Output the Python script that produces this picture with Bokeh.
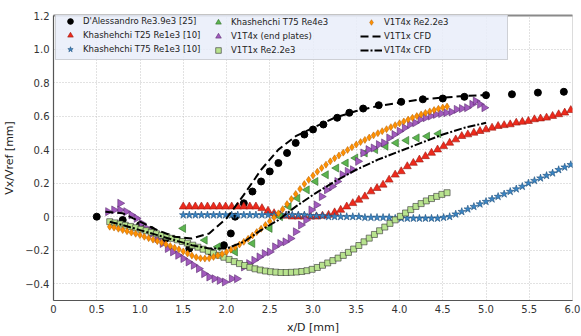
import math
from bokeh.plotting import figure
from bokeh.models import (LinearAxis, FixedTicker, CustomJSTickFormatter, Range1d,
                          Legend, LegendItem)
from bokeh.embed import file_html
from bokeh.resources import INLINE

# ---------------- data ----------------
x_ticks = [0, 0.5, 1.0, 1.5, 2.0, 2.5, 3.0, 3.5, 4.0, 4.5, 5.0, 5.5, 6.0]
y_ticks = [-0.4, -0.2, 0, 0.2, 0.4, 0.6, 0.8, 1.0, 1.2]

dal_x = [0.5, 0.8, 1.0, 1.13, 1.3, 1.57, 1.82, 1.97, 2.05, 2.1, 2.2, 2.3, 2.4, 2.5,
         2.6, 2.7, 2.8, 2.9, 3.0, 3.12, 3.28, 3.42, 3.58, 3.76, 4.02, 4.27, 4.5,
         4.75, 5.0, 5.3, 5.6, 5.9]
dal_y = [0.0, -0.02, -0.05, -0.08, -0.13, -0.19, -0.21, -0.17, -0.10, 0.0, 0.08,
         0.15, 0.21, 0.27, 0.32, 0.38, 0.44, 0.49, 0.52, 0.55, 0.59, 0.62, 0.645,
         0.665, 0.685, 0.70, 0.705, 0.715, 0.725, 0.73, 0.74, 0.745]

t25_x = [1.5, 1.57, 1.64, 1.71, 1.78, 1.85, 1.92, 1.99, 2.06, 2.13, 2.2, 2.27, 2.34,
         2.41, 2.48, 2.55, 2.62, 2.69, 2.76, 2.83, 2.9, 2.97, 3.04, 3.11, 3.18, 3.25,
         3.32, 3.39, 3.46, 3.53, 3.6, 3.67, 3.74, 3.81, 3.88, 3.95, 4.02, 4.09, 4.16,
         4.23, 4.3, 4.37, 4.44, 4.51, 4.58, 4.65, 4.72, 4.79, 4.86, 4.93, 5.0, 5.07,
         5.14, 5.21, 5.28, 5.35, 5.42, 5.49, 5.56, 5.63, 5.7, 5.77, 5.84, 5.91, 5.98]
t25_y = [0.06, 0.06, 0.06, 0.06, 0.06, 0.06, 0.06, 0.06, 0.06, 0.06, 0.06, 0.06, 0.06,
         0.05, 0.035, 0.02, 0.01, 0.005, 0.0, 0.0, 0.0, 0.0, 0.0, 0.005, 0.01, 0.025,
         0.04, 0.06, 0.08, 0.10, 0.12, 0.15, 0.17, 0.19, 0.22, 0.25, 0.27, 0.30, 0.32,
         0.34, 0.36, 0.38, 0.40, 0.42, 0.44, 0.46, 0.48, 0.49, 0.50, 0.51, 0.52, 0.53,
         0.54, 0.545, 0.55, 0.56, 0.565, 0.57, 0.58, 0.585, 0.59, 0.60, 0.61, 0.62, 0.635]

t75_x = [1.5, 1.57, 1.64, 1.71, 1.78, 1.85, 1.92, 1.99, 2.06, 2.13, 2.2, 2.27, 2.34,
         2.41, 2.48, 2.55, 2.62, 2.69, 2.76, 2.83, 2.9, 2.97, 3.04, 3.11, 3.18, 3.25,
         3.32, 3.39, 3.46, 3.53, 3.6, 3.67, 3.74, 3.81, 3.88, 3.95, 4.02, 4.09, 4.16,
         4.23, 4.3, 4.37, 4.44, 4.51, 4.58, 4.65, 4.72, 4.79, 4.86, 4.93, 5.0, 5.07,
         5.14, 5.21, 5.28, 5.35, 5.42, 5.49, 5.56, 5.63, 5.7, 5.77, 5.84, 5.91, 5.98]
t75_y = [0.01, 0.01, 0.01, 0.01, 0.01, 0.01, 0.01, 0.01, 0.01, 0.01, 0.01, 0.01, 0.01,
         0.01, 0.01, 0.01, 0.01, 0.01, 0.01, 0.01, 0.01, 0.005, 0.005, 0.005, 0.0, 0.0,
         0.0, 0.0, 0.0, 0.0, -0.005, -0.005, -0.005, -0.005, -0.005, -0.01, -0.01,
         -0.01, -0.01, -0.01, -0.01, -0.01, -0.01, -0.005, 0.0, 0.015, 0.03, 0.045,
         0.06, 0.075, 0.09, 0.105, 0.12, 0.135, 0.15, 0.165, 0.18, 0.2, 0.215, 0.23,
         0.245, 0.26, 0.28, 0.295, 0.31]

t75r4_x = [1.5, 1.75, 1.9, 2.1, 2.3, 2.5, 2.62, 2.72, 2.82, 2.93, 3.03, 3.15, 3.27,
           3.38, 3.49, 3.6, 3.72, 3.84, 3.96, 4.08, 4.2, 4.32, 4.45]
t75r4_y = [-0.07, -0.14, -0.18, -0.21, -0.16, -0.07, 0.0, 0.06, 0.11, 0.16, 0.21,
           0.25, 0.29, 0.32, 0.35, 0.38, 0.40, 0.42, 0.44, 0.455, 0.47, 0.48, 0.495]

ep_x = [0.63, 0.7, 0.77, 0.77, 0.84, 0.9, 0.96, 1.02, 1.08, 1.14, 1.2, 1.26, 1.32,
        1.38, 1.44, 1.5, 1.56, 1.62, 1.68, 1.74, 1.8, 1.86, 1.92, 1.98, 2.06, 2.12,
        2.2, 2.26, 2.32, 2.38, 2.44, 2.5, 2.56, 2.62, 2.68, 2.74, 2.8, 2.86, 2.92,
        2.98, 3.04, 3.1, 3.16, 3.22, 3.28, 3.34, 3.4, 3.46, 3.52, 3.58, 3.64, 3.7,
        3.76, 3.82, 3.88, 3.94, 4.0, 4.06, 4.12, 4.18, 4.24, 4.3, 4.36, 4.42, 4.48,
        4.54, 4.6, 4.66, 4.72, 4.78, 4.84, 4.88, 4.93, 4.98]
ep_y = [0.03, 0.04, 0.08, 0.04, 0.03, 0.01, -0.01, -0.04, -0.07, -0.10, -0.13, -0.16,
        -0.19, -0.21, -0.23, -0.25, -0.27, -0.29, -0.31, -0.34, -0.36, -0.37, -0.38,
        -0.39, -0.37, -0.37, -0.30, -0.28, -0.26, -0.24, -0.22, -0.21, -0.18, -0.16,
        -0.15, -0.13, -0.09, -0.05, -0.02, 0.04, 0.07, 0.12, 0.16, 0.18, 0.21, 0.25,
        0.27, 0.28, 0.33, 0.38, 0.40, 0.41, 0.43, 0.44, 0.47, 0.49, 0.51, 0.53, 0.55,
        0.56, 0.58, 0.59, 0.60, 0.61, 0.615, 0.62, 0.625, 0.64, 0.645, 0.65, 0.67,
        0.69, 0.67, 0.65]

v1x_x = [0.65, 0.71, 0.77, 0.83, 0.89, 0.95, 1.01, 1.07, 1.13, 1.19, 1.25, 1.31, 1.37,
         1.43, 1.49, 1.55, 1.61, 1.67, 1.73, 1.79, 1.85, 1.91, 1.97, 2.03, 2.09, 2.15,
         2.21, 2.27, 2.33, 2.39, 2.45, 2.51, 2.57, 2.63, 2.69, 2.75, 2.81, 2.87, 2.93,
         2.99, 3.05, 3.11, 3.17, 3.23, 3.29, 3.35, 3.41, 3.47, 3.53, 3.59, 3.65, 3.71,
         3.77, 3.83, 3.89, 3.95, 4.01, 4.07, 4.13, 4.19, 4.25, 4.31, 4.37, 4.43, 4.49,
         4.55]
v1x_y = [-0.030, -0.037, -0.044, -0.051, -0.058, -0.066, -0.075, -0.084, -0.093,
         -0.102, -0.111, -0.120, -0.129, -0.138, -0.148, -0.158, -0.170, -0.182,
         -0.194, -0.206, -0.218, -0.230, -0.242, -0.255, -0.268, -0.280, -0.291,
         -0.302, -0.311, -0.318, -0.324, -0.328, -0.331, -0.333, -0.333, -0.332,
         -0.330, -0.327, -0.322, -0.314, -0.303, -0.290, -0.276, -0.262, -0.247,
         -0.231, -0.213, -0.193, -0.172, -0.150, -0.128, -0.106, -0.084, -0.062,
         -0.040, -0.019, 0.002, 0.022, 0.042, 0.061, 0.078, 0.094, 0.108, 0.121,
         0.133, 0.143]

v4x_x = [0.65, 0.70, 0.75, 0.80, 0.85, 0.90, 0.95, 1.00, 1.05, 1.10, 1.15, 1.20, 1.25,
         1.30, 1.35, 1.40, 1.45, 1.50, 1.55, 1.60, 1.65, 1.70, 1.75, 1.80, 1.85, 1.90,
         1.95, 2.00, 2.05, 2.10, 2.15, 2.20, 2.25, 2.30, 2.35, 2.40, 2.45, 2.50, 2.55,
         2.60, 2.65, 2.70, 2.75, 2.80, 2.85, 2.90, 2.95, 3.00, 3.05, 3.10, 3.15, 3.20,
         3.25, 3.30, 3.35, 3.40, 3.45, 3.50, 3.55, 3.60, 3.65, 3.70, 3.75, 3.80, 3.85,
         3.90, 3.95, 4.00, 4.05, 4.10, 4.15, 4.20, 4.25, 4.30, 4.35, 4.40, 4.45, 4.50,
         4.55]
v4x_y = [-0.060, -0.065, -0.072, -0.080, -0.087, -0.095, -0.102, -0.110, -0.120,
         -0.128, -0.137, -0.146, -0.155, -0.165, -0.175, -0.185, -0.195, -0.207,
         -0.220, -0.232, -0.242, -0.248, -0.250, -0.248, -0.240, -0.232, -0.222,
         -0.210, -0.197, -0.182, -0.166, -0.150, -0.132, -0.112, -0.092, -0.072,
         -0.050, -0.028, -0.005, 0.020, 0.045, 0.075, 0.105, 0.135, 0.165, 0.195,
         0.220, 0.245, 0.268, 0.290, 0.310, 0.330, 0.348, 0.365, 0.382, 0.398, 0.414,
         0.430, 0.445, 0.458, 0.472, 0.485, 0.498, 0.510, 0.522, 0.534, 0.546, 0.557,
         0.568, 0.579, 0.590, 0.600, 0.610, 0.619, 0.628, 0.636, 0.644, 0.651, 0.657]

cfd1_x = [0.6, 0.8, 1.0, 1.2, 1.4, 1.6, 1.8, 2.0, 2.2, 2.4, 2.6, 2.8, 3.0, 3.25, 3.5,
          3.75, 4.0, 4.25, 4.5, 4.75, 5.0]
cfd1_y = [0.03, 0.02, -0.03, -0.08, -0.12, -0.13, -0.10, -0.01, 0.13, 0.28, 0.40,
          0.48, 0.53, 0.59, 0.63, 0.66, 0.68, 0.70, 0.71, 0.72, 0.725]

cfd4_x = [0.65, 0.8, 1.0, 1.2, 1.4, 1.6, 1.8, 2.0, 2.2, 2.4, 2.6, 2.8, 3.0, 3.25, 3.5,
          3.75, 4.0, 4.25, 4.5, 4.75, 5.0]
cfd4_y = [-0.03, -0.05, -0.08, -0.11, -0.14, -0.17, -0.19, -0.19, -0.15, -0.08,
          -0.02, 0.06, 0.13, 0.21, 0.28, 0.34, 0.39, 0.44, 0.49, 0.53, 0.56]

labels = ["D'Alessandro Re3.9e3 [25]", "Khashehchi T25 Re1e3 [10]",
          "Khashehchi T75 Re1e3 [10]", "Khashehchi T75 Re4e3", "V1T4x (end plates)",
          "V1T1x Re2.2e3", "V1T4x Re2.2e3", "V1T1x CFD", "V1T4x CFD"]

# ---------------- figure ----------------
FONT = "DejaVu Sans"
p = figure(width=581, height=336, output_backend="svg", toolbar_location=None,
           x_range=Range1d(0, 6), y_range=Range1d(-0.5, 1.2),
           min_border_left=50, min_border_right=9, min_border_top=15,
           min_border_bottom=31)
p.background_fill_color = "white"
p.border_fill_color = "white"
p.outline_line_color = "#dcdcdc"

r = []
r.append(p.scatter(dal_x, dal_y, marker="circle", size=7, fill_color="black",
                   line_color="black"))
r.append(p.scatter(t25_x, t25_y, marker="triangle", size=8, fill_color="#ee2a1c",
                   line_color="#9a1a10", line_width=0.6))
r.append(p.scatter(t75_x, t75_y, marker="star", size=8, fill_color="#3a85c4",
                   line_color="#1d4f7c", line_width=0.6))
r.append(p.scatter(t75r4_x, t75r4_y, marker="triangle", angle=math.pi / 2, size=8,
                   fill_color="#5cb54f", line_color="#2f6b28", line_width=0.6))
r.append(p.scatter(ep_x, ep_y, marker="triangle", angle=-math.pi / 2, size=8,
                   fill_color="#a15bbd", line_color="#5e2d72", line_width=0.6))
r.append(p.scatter(v1x_x, v1x_y, marker="square", size=6, fill_color="#b8e38e",
                   line_color="#333333", line_width=0.6))
r.append(p.scatter(v4x_x, v4x_y, marker="diamond", size=7, fill_color="#ff9000",
                   line_color="#b35f00", line_width=0.5))
r.append(p.line(cfd1_x, cfd1_y, line_color="black", line_width=2, line_dash="8 4"))
r.append(p.line(cfd4_x, cfd4_y, line_color="black", line_width=2,
                line_dash="8 2 2 2"))

# axes
fmt = CustomJSTickFormatter(code="""
if (Math.abs(tick) < 1e-9) { return '0'; }
return tick.toFixed(1).replace('-', '\\u2212');
""")
p.xaxis.ticker = FixedTicker(ticks=x_ticks)
p.yaxis.ticker = FixedTicker(ticks=y_ticks)
for ax in (p.xaxis[0], p.yaxis[0]):
    ax.formatter = fmt
    ax.major_tick_out = 0
    ax.major_tick_in = 0
    ax.minor_tick_out = 0
    ax.minor_tick_in = 0
    ax.axis_line_color = "#555555"
    ax.axis_line_width = 1.2
    ax.major_label_text_font = FONT
    ax.major_label_text_font_size = "10px"
    ax.major_label_text_color = "#333333"
    ax.axis_label_text_font = FONT
    ax.axis_label_text_font_size = "11px"
    ax.axis_label_text_font_style = "normal"
    ax.axis_label_text_color = "#222222"
p.xaxis.major_label_standoff = 4
p.yaxis.major_label_standoff = 4
p.xaxis.axis_label = "x/D [mm]"
p.yaxis.axis_label = "Vx/Vref [mm]"
p.xaxis.axis_label_standoff = 5
p.yaxis.axis_label_standoff = 6

top = LinearAxis(ticker=FixedTicker(ticks=[]), major_label_text_font_size="0px",
                 major_tick_out=0, major_tick_in=0, minor_tick_out=0,
                 minor_tick_in=0, major_label_standoff=0,
                 axis_line_color="#8a8a8a", axis_line_width=2.2)
p.add_layout(top, "above")

for g in (p.xgrid[0], p.ygrid[0]):
    g.grid_line_color = "#c4c4c4"
    g.grid_line_dash = "1 2"
    g.grid_line_width = 1
p.xgrid.ticker = FixedTicker(ticks=x_ticks)
p.ygrid.ticker = FixedTicker(ticks=y_ticks)

# legend: three single-column legends, the first one carries the box
col_x = [2, 151, 304]
for c in range(3):
    items = [LegendItem(label=labels[3 * c + k], renderers=[r[3 * c + k]])
             for k in range(3)]
    leg = Legend(items=items, location=(col_x[c], 240), orientation="vertical")
    leg.label_text_font = FONT
    leg.label_text_font_size = "8.5px"
    leg.label_text_color = "#222222"
    leg.glyph_width = 22
    leg.glyph_height = 14
    leg.label_height = 14
    leg.label_standoff = 2
    leg.spacing = 0
    leg.padding = 3
    leg.margin = 0
    if c == 0:
        leg.label_width = 421
        leg.background_fill_color = "#e9edf9"
        leg.background_fill_alpha = 0.85
        leg.border_line_color = "#b0b0b0"
        leg.border_line_width = 1
    else:
        leg.label_width = 20
        leg.background_fill_alpha = 0
        leg.border_line_alpha = 0
    p.add_layout(leg, "center")

open("out.html", "w").write(file_html(p, INLINE))
